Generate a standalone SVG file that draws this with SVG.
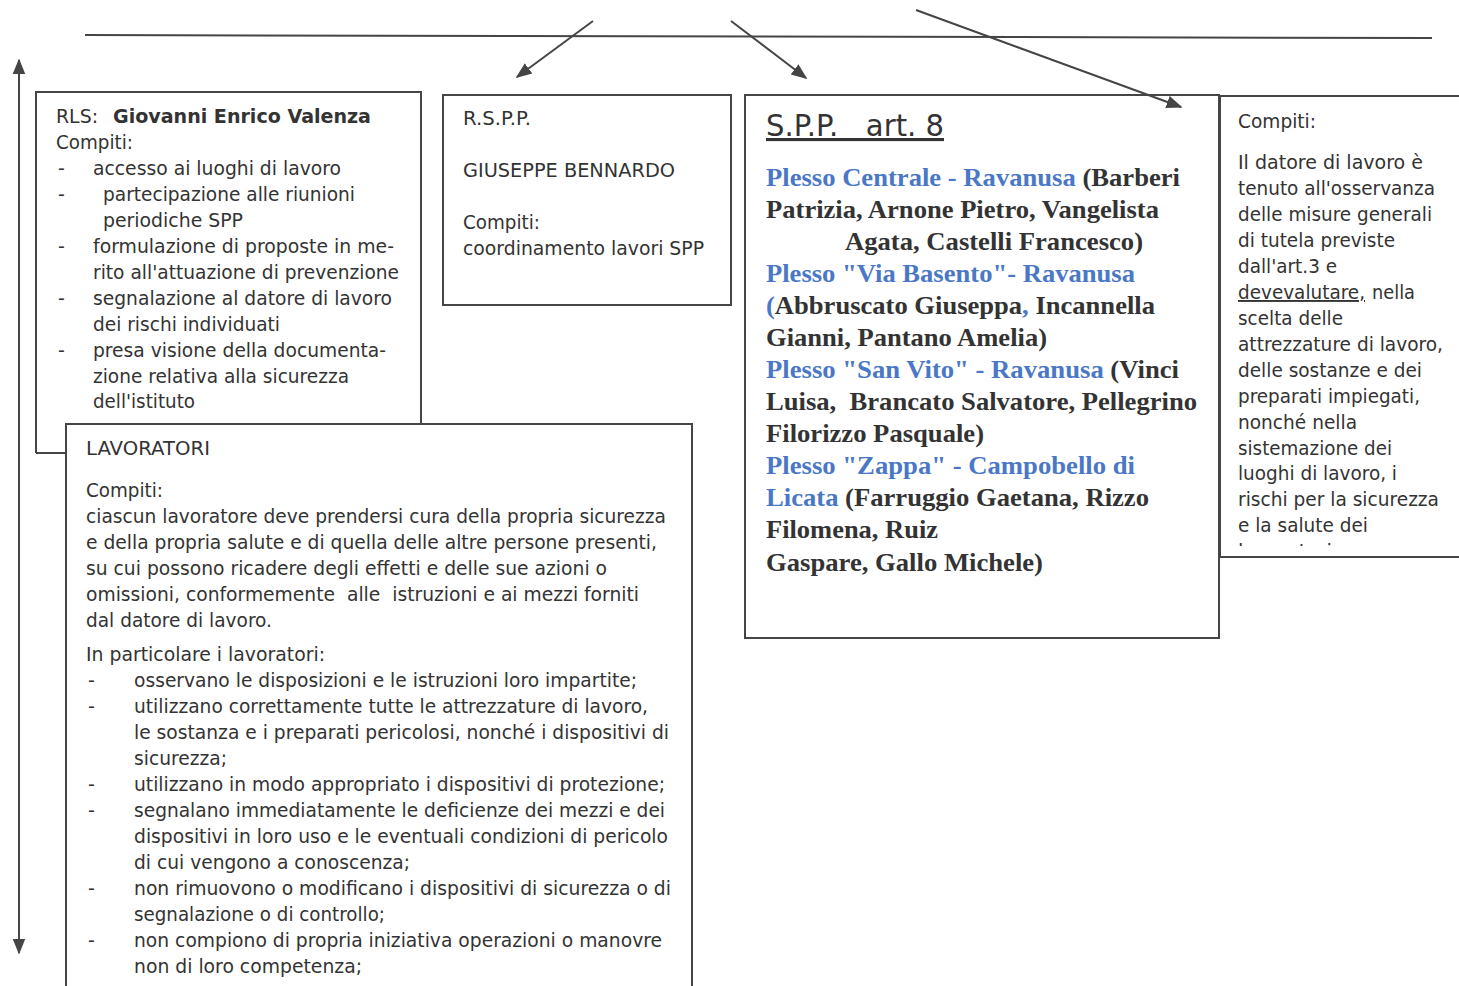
<svg xmlns="http://www.w3.org/2000/svg" width="1459" height="986" viewBox="0 0 1459 986">
<defs>
<style>
.box{fill:none;stroke:#454545;stroke-width:2}
.ln{fill:none;stroke:#454545;stroke-width:2}
.t{font-family:"DejaVu Sans","Liberation Sans",sans-serif;font-size:19px;fill:#333}
.tb{font-family:"DejaVu Sans","Liberation Sans",sans-serif;font-size:19px;fill:#333;font-weight:bold}
.s{font-family:"Liberation Serif","DejaVu Serif",serif;font-size:26px;font-weight:bold;fill:#333}
.bl{fill:#4a78c6}
.h{font-family:"DejaVu Sans","Liberation Sans",sans-serif;font-size:31px;fill:#333;text-decoration:underline}
</style>
<marker id="ah2" viewBox="0 0 10 10" refX="9" refY="5" markerWidth="16" markerHeight="16" orient="auto-start-reverse" markerUnits="userSpaceOnUse">
<path d="M0,1 L10,5 L0,9 z" fill="#454545"/>
</marker>
<clipPath id="rc"><rect x="1220" y="96" width="239" height="450"/></clipPath>
</defs>
<rect width="1459" height="986" fill="#fff"/>

<g id="connectors">
<line class="ln" x1="85" y1="35" x2="1432" y2="38"/>
<line class="ln" x1="593" y1="21" x2="517" y2="77" marker-end="url(#ah2)"/>
<line class="ln" x1="731" y1="21" x2="806" y2="78" marker-end="url(#ah2)"/>
<line class="ln" x1="916" y1="10" x2="1181" y2="107" marker-end="url(#ah2)"/>
<line class="ln" x1="19" y1="60" x2="19" y2="953" marker-start="url(#ah2)" marker-end="url(#ah2)"/>
<line class="ln" x1="36" y1="453" x2="66" y2="453"/>
</g>

<g id="rls">
<path class="box" d="M36,453 L36,92 L421,92 L421,424"/>
<text class="t" x="56" y="123" textLength="42" lengthAdjust="spacingAndGlyphs">RLS:</text>
<text class="tb" x="113" y="123" textLength="258" lengthAdjust="spacingAndGlyphs">Giovanni Enrico Valenza</text>
<text class="t" x="56" y="149" textLength="77" lengthAdjust="spacingAndGlyphs">Compiti:</text>
<text class="t" x="58" y="175">-</text>
<text class="t" x="93" y="175" textLength="248" lengthAdjust="spacingAndGlyphs">accesso ai luoghi di lavoro</text>
<text class="t" x="58" y="201">-</text>
<text class="t" x="103" y="201" textLength="252" lengthAdjust="spacingAndGlyphs">partecipazione alle riunioni</text>
<text class="t" x="103" y="227" textLength="140" lengthAdjust="spacingAndGlyphs">periodiche SPP</text>
<text class="t" x="58" y="253">-</text>
<text class="t" x="93" y="253" textLength="301" lengthAdjust="spacingAndGlyphs">formulazione di proposte in me-</text>
<text class="t" x="93" y="279" textLength="306" lengthAdjust="spacingAndGlyphs">rito all'attuazione di prevenzione</text>
<text class="t" x="58" y="305">-</text>
<text class="t" x="93" y="305" textLength="299" lengthAdjust="spacingAndGlyphs">segnalazione al datore di lavoro</text>
<text class="t" x="93" y="331" textLength="187" lengthAdjust="spacingAndGlyphs">dei rischi individuati</text>
<text class="t" x="58" y="357">-</text>
<text class="t" x="93" y="357" textLength="293" lengthAdjust="spacingAndGlyphs">presa visione della documenta-</text>
<text class="t" x="93" y="383" textLength="256" lengthAdjust="spacingAndGlyphs">zione relativa alla sicurezza</text>
<text class="t" x="93" y="408" textLength="102" lengthAdjust="spacingAndGlyphs">dell'istituto</text>
</g>

<g id="rspp">
<rect class="box" x="443" y="95" width="288" height="210"/>
<text class="t" x="463" y="125" textLength="68" lengthAdjust="spacingAndGlyphs">R.S.P.P.</text>
<text class="t" x="463" y="177" textLength="212" lengthAdjust="spacingAndGlyphs">GIUSEPPE BENNARDO</text>
<text class="t" x="463" y="229" textLength="77" lengthAdjust="spacingAndGlyphs">Compiti:</text>
<text class="t" x="463" y="255" textLength="241" lengthAdjust="spacingAndGlyphs">coordinamento lavori SPP</text>
</g>

<g id="spp">
<rect class="box" x="745" y="95" width="474" height="543"/>
<text class="h" x="766" y="136" xml:space="preserve" textLength="178" lengthAdjust="spacingAndGlyphs">S.P.P.   art. 8</text>
<text class="s" x="766" y="186" textLength="414" lengthAdjust="spacingAndGlyphs"><tspan class="bl">Plesso Centrale - Ravanusa</tspan> (Barberi</text>
<text class="s" x="766" y="218" textLength="393" lengthAdjust="spacingAndGlyphs">Patrizia, Arnone Pietro, Vangelista</text>
<text class="s" x="845" y="250" textLength="298" lengthAdjust="spacingAndGlyphs">Agata, Castelli Francesco)</text>
<text class="s bl" x="766" y="282" textLength="369" lengthAdjust="spacingAndGlyphs">Plesso "Via Basento"- Ravanusa</text>
<text class="s" x="766" y="314" textLength="389" lengthAdjust="spacingAndGlyphs"><tspan class="bl">(</tspan>Abbruscato Giuseppa<tspan class="bl">,</tspan> Incannella</text>
<text class="s" x="766" y="346" textLength="281" lengthAdjust="spacingAndGlyphs">Gianni, Pantano Amelia)</text>
<text class="s" x="766" y="378" textLength="413" lengthAdjust="spacingAndGlyphs"><tspan class="bl">Plesso "San Vito" - Ravanusa</tspan> (Vinci</text>
<text class="s" x="766" y="410" xml:space="preserve" textLength="431" lengthAdjust="spacingAndGlyphs">Luisa,  Brancato Salvatore, Pellegrino</text>
<text class="s" x="766" y="442" textLength="218" lengthAdjust="spacingAndGlyphs">Filorizzo Pasquale)</text>
<text class="s bl" x="766" y="474" textLength="369" lengthAdjust="spacingAndGlyphs">Plesso "Zappa" - Campobello di</text>
<text class="s" x="766" y="506" textLength="383" lengthAdjust="spacingAndGlyphs"><tspan class="bl">Licata</tspan> (Farruggio Gaetana, Rizzo</text>
<text class="s" x="766" y="538" textLength="172" lengthAdjust="spacingAndGlyphs">Filomena, Ruiz</text>
<text class="s" x="766" y="571" textLength="277" lengthAdjust="spacingAndGlyphs">Gaspare, Gallo Michele)</text>
</g>

<g id="datore">
<path class="box" d="M1459,96 L1220,96 L1220,557 L1459,557"/>
<g clip-path="url(#rc)">
<text class="t" x="1238" y="128" textLength="78" lengthAdjust="spacingAndGlyphs">Compiti:</text>
<text class="t" x="1238" y="169" textLength="185" lengthAdjust="spacingAndGlyphs">Il datore di lavoro è</text>
<text class="t" x="1238" y="195" textLength="197" lengthAdjust="spacingAndGlyphs">tenuto all'osservanza</text>
<text class="t" x="1238" y="221" textLength="194" lengthAdjust="spacingAndGlyphs">delle misure generali</text>
<text class="t" x="1238" y="247" textLength="157" lengthAdjust="spacingAndGlyphs">di tutela previste</text>
<text class="t" x="1238" y="273" textLength="99" lengthAdjust="spacingAndGlyphs">dall'art.3 e</text>
<text class="t" x="1238" y="299" textLength="127" lengthAdjust="spacingAndGlyphs" text-decoration="underline">devevalutare,</text>
<text class="t" x="1372" y="299" textLength="43" lengthAdjust="spacingAndGlyphs">nella</text>
<text class="t" x="1238" y="325" textLength="105" lengthAdjust="spacingAndGlyphs">scelta delle</text>
<text class="t" x="1238" y="351" textLength="205" lengthAdjust="spacingAndGlyphs">attrezzature di lavoro,</text>
<text class="t" x="1238" y="377" textLength="184" lengthAdjust="spacingAndGlyphs">delle sostanze e dei</text>
<text class="t" x="1238" y="403" textLength="182" lengthAdjust="spacingAndGlyphs">preparati impiegati,</text>
<text class="t" x="1238" y="429" textLength="119" lengthAdjust="spacingAndGlyphs">nonché nella</text>
<text class="t" x="1238" y="455" textLength="154" lengthAdjust="spacingAndGlyphs">sistemazione dei</text>
<text class="t" x="1238" y="480" textLength="159" lengthAdjust="spacingAndGlyphs">luoghi di lavoro, i</text>
<text class="t" x="1238" y="506" textLength="201" lengthAdjust="spacingAndGlyphs">rischi per la sicurezza</text>
<text class="t" x="1238" y="532" textLength="130" lengthAdjust="spacingAndGlyphs">e la salute dei</text>
<text class="t" x="1238" y="558" textLength="100" lengthAdjust="spacingAndGlyphs">lavoratori.</text>
</g>
</g>

<g id="lavoratori">
<path class="box" d="M66,990 L66,424 L692,424 L692,990"/>
<text class="t" x="86" y="455" textLength="124" lengthAdjust="spacingAndGlyphs">LAVORATORI</text>
<text class="t" x="86" y="497" textLength="77" lengthAdjust="spacingAndGlyphs">Compiti:</text>
<text class="t" x="86" y="523" textLength="580" lengthAdjust="spacingAndGlyphs">ciascun lavoratore deve prendersi cura della propria sicurezza</text>
<text class="t" x="86" y="549" textLength="571" lengthAdjust="spacingAndGlyphs">e della propria salute e di quella delle altre persone presenti,</text>
<text class="t" x="86" y="575" textLength="521" lengthAdjust="spacingAndGlyphs">su cui possono ricadere degli effetti e delle sue azioni o</text>
<text class="t" x="86" y="601" xml:space="preserve" textLength="553" lengthAdjust="spacingAndGlyphs">omissioni, conformemente  alle  istruzioni e ai mezzi forniti</text>
<text class="t" x="86" y="627" textLength="186" lengthAdjust="spacingAndGlyphs">dal datore di lavoro.</text>
<text class="t" x="86" y="661" textLength="239" lengthAdjust="spacingAndGlyphs">In particolare i lavoratori:</text>
<text class="t" x="88" y="687">-</text>
<text class="t" x="134" y="687" textLength="503" lengthAdjust="spacingAndGlyphs">osservano le disposizioni e le istruzioni loro impartite;</text>
<text class="t" x="88" y="713">-</text>
<text class="t" x="134" y="713" textLength="514" lengthAdjust="spacingAndGlyphs">utilizzano correttamente tutte le attrezzature di lavoro,</text>
<text class="t" x="134" y="739" textLength="535" lengthAdjust="spacingAndGlyphs">le sostanza e i preparati pericolosi, nonché i dispositivi di</text>
<text class="t" x="134" y="765" textLength="93" lengthAdjust="spacingAndGlyphs">sicurezza;</text>
<text class="t" x="88" y="791">-</text>
<text class="t" x="134" y="791" textLength="531" lengthAdjust="spacingAndGlyphs">utilizzano in modo appropriato i dispositivi di protezione;</text>
<text class="t" x="88" y="817">-</text>
<text class="t" x="134" y="817" textLength="531" lengthAdjust="spacingAndGlyphs">segnalano immediatamente le deficienze dei mezzi e dei</text>
<text class="t" x="134" y="843" textLength="534" lengthAdjust="spacingAndGlyphs">dispositivi in loro uso e le eventuali condizioni di pericolo</text>
<text class="t" x="134" y="869" textLength="276" lengthAdjust="spacingAndGlyphs">di cui vengono a conoscenza;</text>
<text class="t" x="88" y="895">-</text>
<text class="t" x="134" y="895" textLength="537" lengthAdjust="spacingAndGlyphs">non rimuovono o modificano i dispositivi di sicurezza o di</text>
<text class="t" x="134" y="921" textLength="251" lengthAdjust="spacingAndGlyphs">segnalazione o di controllo;</text>
<text class="t" x="88" y="947">-</text>
<text class="t" x="134" y="947" textLength="528" lengthAdjust="spacingAndGlyphs">non compiono di propria iniziativa operazioni o manovre</text>
<text class="t" x="134" y="973" textLength="228" lengthAdjust="spacingAndGlyphs">non di loro competenza;</text>
</g>
</svg>
